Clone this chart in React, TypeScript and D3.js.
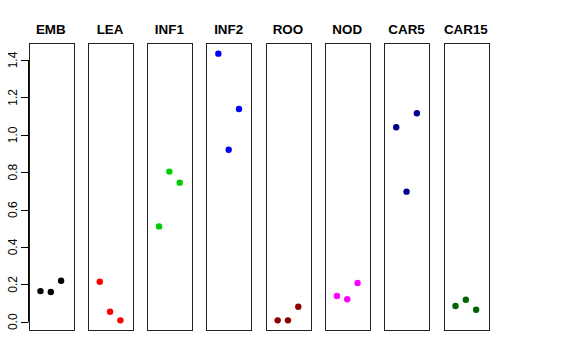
import React from "react";
import * as d3 from "d3";

const categories = ["EMB", "LEA", "INF1", "INF2", "ROO", "NOD", "CAR5", "CAR15"];
const colors = ["#000000", "#FF0000", "#00CD00", "#0000FF", "#8B0000", "#FF00FF", "#00008B", "#006400"];
const rep1 = [0.164, 0.214, 0.510, 1.434, 0.0075, 0.1375, 1.040, 0.084];
const rep2 = [0.159, 0.0535, 0.803, 0.920, 0.0075, 0.120, 0.696, 0.118];
const rep3 = [0.219, 0.0075, 0.744, 1.138, 0.080, 0.207, 1.115, 0.064];
const yTicks = [0, 0.2, 0.4, 0.6, 0.8, 1.0, 1.2, 1.4];

const W = 576;
const H = 360;
const top = 43;
const bottom = 331;
const firstLeft = 28.5;
const panelStep = 59.29;
const panelW = 44.6;

export default function App() {
  const all = [...rep1, ...rep2, ...rep3];
  const mn = d3.min(all) as number;
  const mx = d3.max(all) as number;
  const ext = (mx - mn) * 0.04;
  const y = d3.scaleLinear().domain([mn - ext, mx + ext]).range([bottom, top]);
  const reps = [rep1, rep2, rep3];
  const font = "'Liberation Sans', Arial, Helvetica, sans-serif";

  return (
    <svg width={W} height={H} style={{ position: "absolute", left: 0, top: 0, background: "#fff" }}>
      <rect x={0} y={0} width={W} height={H} fill="#fff" />
      {categories.map((c, i) => {
        const left = firstLeft + i * panelStep;
        const x = d3.scaleLinear().domain([-0.16, 4.16]).range([left, left + panelW]);
        return (
          <g key={c}>
            <text
              x={left + panelW / 2}
              y={34}
              textAnchor="middle"
              fontFamily={font}
              fontWeight="bold"
              fontSize={13.4}
              fill="#000"
            >
              {c}
            </text>
            <rect
              x={Math.round(left) + 0.5}
              y={top + 0.5}
              width={Math.round(panelW)}
              height={bottom - top - 1}
              fill="none"
              stroke="#222"
              strokeWidth={1}
            />
            {reps.map((r, j) => (
              <circle key={j} cx={x(j + 1)} cy={y(r[i])} r={3.2} fill={colors[i]} />
            ))}
          </g>
        );
      })}
      <g>
        <line
          x1={28.5}
          x2={28.5}
          y1={y(yTicks[0])}
          y2={y(yTicks[yTicks.length - 1])}
          stroke="#000"
        />
        {yTicks.map((t) => (
          <g key={t}>
            <line x1={21} x2={28.5} y1={Math.round(y(t)) + 0.5} y2={Math.round(y(t)) + 0.5} stroke="#000" />
            <text
              transform={`translate(16.5,${y(t)}) rotate(-90)`}
              textAnchor="middle"
              fontFamily={font}
              fontSize={12}
              fill="#000"
            >
              {t.toFixed(1)}
            </text>
          </g>
        ))}
      </g>
    </svg>
  );
}
